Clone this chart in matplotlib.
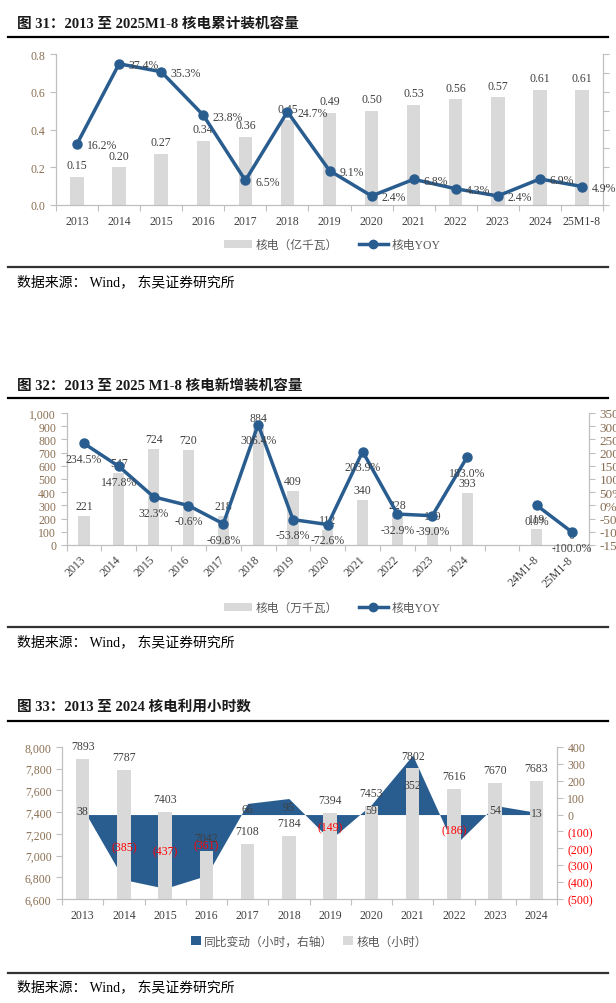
import matplotlib
matplotlib.use('Agg')
import matplotlib.pyplot as plt
from matplotlib.lines import Line2D
from matplotlib.patches import Patch
import numpy as np

plt.rcParams['font.family'] = ['Liberation Serif', 'Noto Sans CJK SC']
plt.rcParams['axes.unicode_minus'] = False

# ---- data ----
# 图31 累计装机容量
years31 = ['2013', '2014', '2015', '2016', '2017', '2018', '2019', '2020',
           '2021', '2022', '2023', '2024', '25M1-8']
cap31 = [0.15, 0.20, 0.27, 0.34, 0.36, 0.45, 0.49, 0.50, 0.53, 0.56, 0.57, 0.61, 0.61]
yoy31 = [16.2, 37.4, 35.3, 23.8, 6.5, 24.7, 9.1, 2.4, 6.8, 4.3, 2.4, 6.9, 4.9]

# 图32 新增装机容量 (blank slot between 2024 and 24M1-8)
years32 = ['2013', '2014', '2015', '2016', '2017', '2018', '2019', '2020',
           '2021', '2022', '2023', '2024', '', '24M1-8', '25M1-8']
new32 = [221, 547, 724, 720, 218, 884, 409, 112, 340, 228, 139, 393, None, 119, 0]
yoy32 = [234.5, 147.8, 32.3, -0.6, -69.8, 306.4, -53.8, -72.6, 203.9, -32.9, -39.0, 183.0,
         None, 0.0, -100.0]

# 图33 利用小时数
years33 = ['2013', '2014', '2015', '2016', '2017', '2018', '2019', '2020',
           '2021', '2022', '2023', '2024']
hours33 = [7893, 7787, 7403, 7042, 7108, 7184, 7394, 7453, 7802, 7616, 7670, 7683]
chg33 = [38, -385, -437, -361, 66, 95, -149, 59, 352, -186, 54, 13]

# ---- style ----
BAR = '#d9d9d9'
BLUE = '#2a5d8f'
TXT = '#404040'
TICK = '#8a6e52'
SPINE = '#bfbfbf'
RED = '#ff0000'
W, H = 616, 1004

fig = plt.figure(figsize=(W / 100, H / 100), dpi=100)


def fx(x):
    return x / W


def fy(y):
    return 1 - y / H


def box(x0, y0, x1, y1):
    return [fx(x0), fy(y1), (x1 - x0) / W, (y1 - y0) / H]


def frame(title, y_title, y_rule, y_rule2, y_src):
    fig.text(fx(17), fy(y_title), title, fontsize=10.5, fontweight='bold',
             va='center', color='#1a1a1a')
    fig.add_artist(Line2D([fx(8), fx(608)], [fy(y_rule)] * 2, color='black', lw=1.6))
    fig.add_artist(Line2D([fx(8), fx(608)], [fy(y_rule2)] * 2, color='#333333', lw=1.6))
    fig.text(fx(17), fy(y_src), '数据来源： Wind， 东吴证券研究所', fontsize=10,
             va='center', color='black')


def style(ax, ax2, labels, rot=0):
    n = len(labels)
    for a in (ax, ax2):
        a.spines['top'].set_visible(False)
        for s in ('left', 'right', 'bottom'):
            a.spines[s].set_color(SPINE)
    ax.set_xlim(-0.5, n - 0.5)
    ax.set_xticks(np.arange(n + 1) - 0.5)
    ax.set_xticklabels([])
    ax.set_xticks(np.arange(n), minor=True)
    if rot:
        ax.set_xticklabels(labels, minor=True, rotation=rot, ha='right',
                           va='center', rotation_mode='anchor')
        ax.tick_params(axis='x', which='minor', length=0, pad=9, labelsize=8.5,
                       labelcolor=TXT)
    else:
        ax.set_xticklabels(labels, minor=True)
        ax.tick_params(axis='x', which='minor', length=0, pad=7, labelsize=8.5,
                       labelcolor=TXT)
    ax.tick_params(axis='x', which='major', length=4, color=SPINE)
    ax.tick_params(axis='y', length=4, color=SPINE, labelsize=8.5, labelcolor=TICK)
    ax2.tick_params(axis='y', length=4, color=SPINE, labelsize=8.5, labelcolor=TICK)


# =========== 图31 ===========
frame('图 31：2013 至 2025M1-8 核电累计装机容量', 24, 38, 268, 282)
ax = fig.add_axes(box(56, 55, 603, 206))
ax2 = ax.twinx()
x = np.arange(len(years31))
ax.bar(x, cap31, width=0.32, color=BAR)
ax.set_ylim(0, 0.8)
ax.set_yticks(np.arange(0, 0.81, 0.2))
ax.set_yticklabels([f'{v:.1f}' for v in np.arange(0, 0.81, 0.2)])
for xi, v in zip(x, cap31):
    ax.annotate(f'{v:.2f}', (xi, v), xytext=(0, 4), textcoords='offset points',
                ha='center', va='bottom', fontsize=8.5, color=TXT)
ax2.plot(x, yoy31, color=BLUE, lw=2.5, marker='o', ms=6.5)
ax2.set_ylim(0, 40)
ax2.set_yticks(np.arange(0, 41, 5))
ax2.tick_params(axis='y', labelright=False)
for xi, v in zip(x, yoy31):
    ax2.annotate(f'{v:.1f}%', (xi, v), xytext=(7, -1), textcoords='offset points',
                 ha='left', va='center', fontsize=8.5, color=TXT, annotation_clip=False)
style(ax, ax2, years31)
fig.legend([Patch(facecolor=BAR), Line2D([0], [0], color=BLUE, lw=2.5, marker='o', ms=6)],
           ['核电（亿千瓦）', '核电YOY'], ncol=2, frameon=False, fontsize=8.5,
           loc='center', bbox_to_anchor=(fx(332), fy(246)), bbox_transform=fig.transFigure,
           handlelength=2.4, handletextpad=0.3, columnspacing=1.8, labelcolor='#595959')

# =========== 图32 ===========
frame('图 32：2013 至 2025 M1-8 核电新增装机容量', 386, 399, 628, 642)
ax = fig.add_axes(box(66.6, 414, 589, 546))
ax2 = ax.twinx()
x = np.arange(len(years32))
for xi, v in zip(x, new32):
    if v is None:
        continue
    ax.bar(xi, v, width=0.32, color=BAR)
    ax.annotate(f'{v}', (xi, v), xytext=(0, 3), textcoords='offset points',
                ha='center', va='bottom', fontsize=8.5, color=TXT)
ax.set_ylim(0, 1000)
ax.set_yticks(np.arange(0, 1001, 100))
ax.set_yticklabels([f'{v:,}' for v in range(0, 1001, 100)])
segs = [[i for i in range(12)], [13, 14]]
for seg in segs:
    ax2.plot(seg, [yoy32[i] for i in seg], color=BLUE, lw=2.5, marker='o', ms=6.5)
for xi, v in zip(x, yoy32):
    if v is None:
        continue
    ax2.annotate(f'{v:.1f}%', (xi, v), xytext=(0, -7), textcoords='offset points',
                 ha='center', va='top', fontsize=8.5, color=TXT, annotation_clip=False)
ax2.set_ylim(-150, 350)
ax2.set_yticks(np.arange(-150, 351, 50))
ax2.set_yticklabels([f'{v}%' for v in range(-150, 351, 50)])
style(ax, ax2, years32, rot=45)
ax2.tick_params(axis='y', labelsize=9.5)
fig.legend([Patch(facecolor=BAR), Line2D([0], [0], color=BLUE, lw=2.5, marker='o', ms=6)],
           ['核电（万千瓦）', '核电YOY'], ncol=2, frameon=False, fontsize=8.5,
           loc='center', bbox_to_anchor=(fx(332), fy(609)), bbox_transform=fig.transFigure,
           handlelength=2.4, handletextpad=0.3, columnspacing=1.8, labelcolor='#595959')

# =========== 图33 ===========
frame('图 33：2013 至 2024 核电利用小时数', 707, 722, 974, 987)
ax = fig.add_axes(box(62, 748, 557, 900))
ax2 = ax.twinx()
ax.set_zorder(2)
ax.patch.set_visible(False)
ax2.set_zorder(1)
x = np.arange(len(years33))
ax2.fill_between(x, 0, chg33, color=BLUE, lw=0)
ax2.set_ylim(-500, 400)
rt = list(range(-500, 401, 100))
ax2.set_yticks(rt)
ax2.set_yticklabels([f'({-v})' if v < 0 else f'{v}' for v in rt])
ax.bar(x, hours33, width=0.33, color=BAR)
ax.set_ylim(6600, 8000)
lt = list(range(6600, 8001, 200))
ax.set_yticks(lt)
ax.set_yticklabels([f'{v:,}' for v in lt])
for xi, v in zip(x, hours33):
    ax.annotate(f'{v}', (xi, v), xytext=(0, 5), textcoords='offset points',
                ha='center', va='bottom', fontsize=8.5, color=TXT)
for xi, v in zip(x, chg33):
    ax.text(xi, v / 2, f'({-v})' if v < 0 else f'{v}', transform=ax2.transData,
            ha='center', va='center', fontsize=8.5, color=RED if v < 0 else TXT)
style(ax, ax2, years33)
for lbl, v in zip(ax2.get_yticklabels(), rt):
    lbl.set_color(RED if v < 0 else TICK)
fig.legend([Patch(facecolor=BLUE), Patch(facecolor=BAR)],
           ['同比变动（小时，右轴）', '核电（小时）'], ncol=2, frameon=False, fontsize=8.5,
           loc='center', bbox_to_anchor=(fx(309), fy(943)), bbox_transform=fig.transFigure,
           handlelength=0.8, handleheight=0.8, handletextpad=0.3, columnspacing=0.8,
           labelcolor='#595959')

fig.savefig('out.png', dpi=100)
